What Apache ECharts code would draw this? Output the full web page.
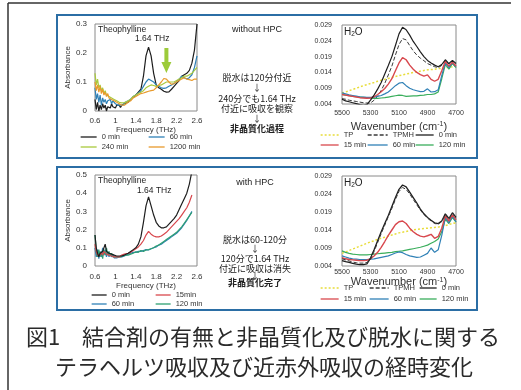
<!DOCTYPE html>
<html>
<head>
<meta charset="utf-8">
<script src="https://cdn.jsdelivr.net/npm/echarts@6/dist/echarts.min.js"></script>
<style>
  html, body { margin: 0; padding: 0; background: #fff; }
  #chart { width: 521px; height: 390px; }
</style>
</head>
<body>
<div id="chart"></div>
<script>
// ---- THz, without HPC ----
const freqTop = [0.6,0.625,0.65,0.675,0.7,0.725,0.75,0.775,0.8,0.825,0.85,0.875,0.9,0.925,0.95,0.975,1.0,1.025,1.05,1.075,1.1,1.125,1.15,1.175,1.2,
  1.25,1.3,1.35,1.4,1.45,1.5,1.55,1.6,1.65,1.7,1.75,1.8,1.85,1.9,1.95,2.0,2.05,2.1,2.15,2.2,2.25,2.3,2.35,2.4,2.45,2.5,2.55,2.6];
const top0min = [0.04,0.005,0.03,0.0,0.02,0.005,0.025,0.01,0.02,0.0,0.015,0.02,0.01,0.025,0.015,0.02,0.01,0.02,0.015,0.02,0.012,0.02,0.018,0.025,0.022,
  0.03,0.04,0.048,0.055,0.065,0.075,0.12,0.19,0.22,0.19,0.13,0.09,0.08,0.075,0.068,0.065,0.066,0.075,0.085,0.095,0.105,0.12,0.125,0.13,0.14,0.165,0.21,0.3];
const top60min = [0.08,0.04,0.06,0.03,0.055,0.02,0.045,0.03,0.04,0.025,0.035,0.03,0.04,0.025,0.035,0.03,0.025,0.03,0.02,0.025,0.02,0.025,0.02,0.028,0.025,
  0.035,0.04,0.05,0.055,0.062,0.07,0.085,0.1,0.11,0.105,0.1,0.09,0.085,0.08,0.078,0.08,0.085,0.09,0.095,0.1,0.11,0.12,0.115,0.11,0.115,0.125,0.15,0.19];
const top240min = [0.13,0.09,0.11,0.08,0.09,0.07,0.08,0.06,0.07,0.055,0.06,0.05,0.055,0.045,0.05,0.04,0.04,0.035,0.035,0.03,0.03,0.028,0.025,0.028,0.025,
  0.035,0.04,0.05,0.055,0.06,0.065,0.07,0.08,0.085,0.09,0.088,0.085,0.088,0.09,0.095,0.1,0.1,0.1,0.1,0.105,0.11,0.115,0.12,0.12,0.125,0.13,0.14,0.15];
const top1200min = [0.1,0.07,0.09,0.065,0.085,0.06,0.075,0.055,0.065,0.05,0.06,0.045,0.05,0.04,0.045,0.035,0.04,0.03,0.035,0.025,0.03,0.02,0.025,0.02,0.025,
  0.03,0.035,0.045,0.05,0.055,0.06,0.062,0.065,0.068,0.07,0.072,0.08,0.09,0.1,0.112,0.11,0.1,0.092,0.095,0.1,0.105,0.11,0.115,0.11,0.108,0.105,0.11,0.11];
const arrowAt = [2.0, 0.174];

// ---- THz, with HPC ----
const freqBot = [0.6,0.625,0.65,0.675,0.7,0.725,0.75,0.775,0.8,0.825,0.85,0.875,0.9,0.925,0.95,0.975,1.0,1.025,1.05,1.075,1.1,1.125,1.15,1.175,1.2,
  1.25,1.3,1.35,1.4,1.45,1.5,1.55,1.6,1.65,1.7,1.75,1.8,1.85,1.9,1.95,2.0,2.05,2.1,2.15,2.2,2.25,2.3,2.35,2.4,2.45,2.5];
const bot0min = [0.17,0.1,0.07,0.05,0.07,0.06,0.08,0.07,0.12,0.08,0.09,0.07,0.08,0.065,0.07,0.06,0.065,0.055,0.06,0.055,0.06,0.055,0.06,0.06,0.065,
  0.07,0.08,0.09,0.1,0.12,0.16,0.24,0.33,0.38,0.33,0.28,0.24,0.22,0.21,0.21,0.215,0.23,0.245,0.26,0.28,0.31,0.34,0.37,0.4,0.45,0.52];
const bot15min = [0.12,0.08,0.06,0.07,0.06,0.075,0.06,0.08,0.07,0.065,0.07,0.06,0.065,0.055,0.06,0.05,0.055,0.05,0.055,0.05,0.055,0.06,0.06,0.065,0.065,
  0.07,0.075,0.085,0.095,0.105,0.12,0.14,0.17,0.19,0.175,0.165,0.16,0.16,0.165,0.175,0.185,0.2,0.215,0.23,0.245,0.26,0.28,0.3,0.32,0.35,0.39];
const bot60min = [0.1,0.05,0.09,0.04,0.08,0.05,0.1,0.06,0.09,0.05,0.08,0.05,0.07,0.05,0.065,0.045,0.055,0.045,0.05,0.05,0.055,0.05,0.06,0.055,0.06,
  0.065,0.07,0.075,0.075,0.08,0.08,0.085,0.09,0.088,0.095,0.1,0.105,0.115,0.12,0.13,0.14,0.15,0.16,0.17,0.18,0.195,0.21,0.23,0.25,0.275,0.3];
const bot120min = [0.17,0.08,0.05,0.09,0.05,0.08,0.04,0.09,0.06,0.1,0.06,0.08,0.055,0.07,0.05,0.06,0.05,0.055,0.05,0.055,0.05,0.055,0.055,0.06,0.06,
  0.06,0.065,0.07,0.078,0.075,0.085,0.08,0.088,0.09,0.095,0.1,0.11,0.115,0.125,0.135,0.145,0.155,0.165,0.175,0.185,0.2,0.215,0.235,0.255,0.275,0.295];

// ---- NIR wavenumber grid ----
const waveNum = [5500,5475,5450,5425,5400,5375,5350,5325,5300,5275,5250,5225,5200,5175,5150,5125,5100,5075,5050,5025,5000,4975,4950,4925,4900,4875,4850,4825,4800,4775,4750,4725,4700];

// NIR, without HPC
const nirTopTP = [0.0075,0.0078,0.0082,0.0086,0.009,0.0094,0.0098,0.0101,0.0105,0.0108,0.0112,0.0115,0.0118,0.0121,0.0124,0.0127,0.013,0.0132,0.0135,0.0137,0.014,0.0142,0.0144,0.0146,0.0148,0.0149,0.015,0.0152,0.0153,0.0155,0.0157,0.0158,0.016];
const nirTopTPMH = [0.0057,0.0055,0.0052,0.005,0.0048,0.0046,0.0044,0.0043,0.0043,0.0052,0.0065,0.0083,0.0105,0.0132,0.016,0.0195,0.0228,0.0247,0.0243,0.0225,0.0208,0.0195,0.0185,0.0177,0.0168,0.0163,0.0158,0.0155,0.0162,0.0178,0.0166,0.0176,0.0166];
const nirTop0min = [0.0055,0.005,0.0047,0.0044,0.0041,0.0038,0.0036,0.0038,0.0052,0.0068,0.0087,0.0108,0.0135,0.0162,0.019,0.0225,0.0262,0.0283,0.0275,0.0258,0.0238,0.0222,0.0205,0.019,0.0178,0.017,0.0163,0.0158,0.0165,0.018,0.0168,0.0178,0.0168];
const nirTop15min = [0.007,0.0068,0.0066,0.0064,0.0062,0.006,0.0059,0.0058,0.0059,0.0063,0.007,0.0079,0.0089,0.0103,0.012,0.0145,0.017,0.0187,0.018,0.0163,0.015,0.014,0.0133,0.0128,0.0132,0.0118,0.0112,0.0118,0.0145,0.0175,0.016,0.0172,0.016];
const nirTop60min = [0.0075,0.0072,0.0069,0.0067,0.0065,0.0063,0.0062,0.0061,0.0061,0.0062,0.0064,0.0067,0.0072,0.0078,0.0088,0.0098,0.0106,0.0108,0.0098,0.009,0.0085,0.0082,0.0079,0.008,0.0088,0.0078,0.0079,0.0085,0.013,0.017,0.0155,0.017,0.0158];
const nirTop120min = [0.007,0.0068,0.0066,0.0064,0.0063,0.0062,0.0061,0.006,0.0059,0.0058,0.0058,0.0059,0.006,0.0062,0.0064,0.0066,0.0068,0.0067,0.0064,0.0065,0.0066,0.0066,0.0067,0.0068,0.007,0.007,0.0072,0.0078,0.012,0.0165,0.015,0.0168,0.0155];

// NIR, with HPC
const nirBotTP = [0.0075,0.0079,0.0083,0.0087,0.0091,0.0095,0.0099,0.0103,0.0107,0.011,0.0114,0.0117,0.012,0.0123,0.0126,0.0129,0.0132,0.0134,0.0136,0.0138,0.014,0.0142,0.0143,0.0144,0.0145,0.0146,0.0147,0.0148,0.015,0.0152,0.0155,0.0158,0.016];
const nirBotTPMH = [0.006,0.0057,0.0054,0.0051,0.0049,0.0048,0.0048,0.005,0.0058,0.008,0.0105,0.013,0.0153,0.0177,0.02,0.0225,0.0247,0.0258,0.0253,0.024,0.0225,0.021,0.0195,0.0183,0.0173,0.0165,0.0158,0.0156,0.0163,0.0183,0.017,0.0186,0.0173];
const nirBot0min = [0.0055,0.0052,0.005,0.0047,0.0045,0.0044,0.0044,0.0046,0.0062,0.0085,0.011,0.0135,0.0158,0.018,0.0205,0.023,0.0253,0.0265,0.026,0.0245,0.023,0.0215,0.0198,0.0185,0.0175,0.0167,0.016,0.0158,0.0165,0.0185,0.0172,0.0188,0.0175];
const nirBot15min = [0.0063,0.006,0.0058,0.0057,0.0056,0.0055,0.0055,0.0056,0.006,0.0068,0.0078,0.0092,0.0108,0.0125,0.014,0.0155,0.0163,0.0165,0.0158,0.0145,0.0135,0.0128,0.0123,0.0121,0.0124,0.0128,0.0117,0.0122,0.0145,0.018,0.0165,0.0182,0.0168];
const nirBot60min = [0.0068,0.0065,0.0062,0.006,0.0059,0.0058,0.0058,0.0058,0.0059,0.006,0.0062,0.0064,0.0066,0.0068,0.0072,0.0076,0.0079,0.0077,0.0072,0.0068,0.0066,0.0064,0.0065,0.007,0.0075,0.009,0.0078,0.0085,0.0125,0.0175,0.016,0.0178,0.0163];
const nirBot120min = [0.0082,0.0078,0.0075,0.0073,0.0072,0.0071,0.0071,0.0071,0.0072,0.0073,0.0074,0.0075,0.0076,0.0077,0.0078,0.008,0.0081,0.0082,0.0084,0.0086,0.0088,0.009,0.0092,0.0095,0.0098,0.0103,0.0108,0.0115,0.0135,0.017,0.0158,0.0175,0.0162];

const LAT = "'Liberation Sans', Arial, sans-serif";
const JP = "'Noto Sans CJK JP', sans-serif";
const C = {
  black: '#1e1e1e', tpmh: '#3a3a3a', red: '#d8474d', blue: '#2f80b6', green: '#3aae5c',
  yellow: '#e8dd3a', lime: '#a9c93c', orange: '#e89a2c', teal: '#2e9f72', arrow: '#9ccb3a'
};

const series = [];
function addLine(gi, xs, ys, name, color, type, width) {
  series.push({
    type: 'line', name: name, xAxisIndex: gi, yAxisIndex: gi,
    data: xs.map((x, i) => [x, ys[i]]),
    symbol: 'none', smooth: false,
    lineStyle: { color: color, width: width || 1.2, type: type || 'solid' },
    itemStyle: { color: color, opacity: 0 },
    emphasis: { disabled: true }
  });
  return series[series.length - 1];
}

// chart 0: THz without HPC
addLine(0, freqTop, top0min, 'a|0 min', C.black);
addLine(0, freqTop, top60min, 'a|60 min', C.blue);
addLine(0, freqTop, top240min, 'a|240 min', C.lime);
const s1200 = addLine(0, freqTop, top1200min, 'a|1200 min', C.orange);
s1200.markPoint = {
  silent: true,
  symbol: 'path://M3,0 L7,0 L7,14 L10,14 L5,25 L0,14 L3,14 Z',
  symbolSize: [10, 25],
  itemStyle: { color: C.arrow, opacity: 1 },
  label: { show: false },
  data: [{ coord: arrowAt }]
};

// chart 1: NIR without HPC
addLine(1, waveNum, nirTopTP, 'b|TP', C.yellow, [2, 2], 1.5);
addLine(1, waveNum, nirTopTPMH, 'b|TPMH', C.tpmh, [4, 2], 1);
addLine(1, waveNum, nirTop120min, 'b|120 min', C.green);
addLine(1, waveNum, nirTop60min, 'b|60 min', C.blue);
addLine(1, waveNum, nirTop15min, 'b|15 min', C.red, 'solid', 1.4);
addLine(1, waveNum, nirTop0min, 'b|0 min', C.black);

// chart 2: THz with HPC
addLine(2, freqBot, bot60min, 'c|60 min', C.blue);
addLine(2, freqBot, bot120min, 'c|120 min', C.teal);
addLine(2, freqBot, bot15min, 'c|15min', C.red);
addLine(2, freqBot, bot0min, 'c|0 min', C.black);

// chart 3: NIR with HPC
addLine(3, waveNum, nirBotTP, 'd|TP', C.yellow, [2, 2], 1.5);
addLine(3, waveNum, nirBot120min, 'd|120 min', C.green);
addLine(3, waveNum, nirBot60min, 'd|60 min', C.blue);
addLine(3, waveNum, nirBot15min, 'd|15 min', C.red, 'solid', 1.4);
addLine(3, waveNum, nirBot0min, 'd|0 min', C.black, 'solid', 1.3);
addLine(3, waveNum, nirBotTPMH, 'd|TPMH', C.tpmh, [4, 2], 1);

const grids = [
  { left: 95, top: 24, width: 102, height: 87 },
  { left: 342, top: 25, width: 114, height: 79 },
  { left: 95, top: 175, width: 102, height: 91 },
  { left: 342, top: 176, width: 114, height: 90 }
].map(g => Object.assign({ show: true, borderColor: '#8a8a8a', borderWidth: 1, backgroundColor: 'transparent' }, g));

function thzX(gi, nameGap, margin) {
  return {
    gridIndex: gi, type: 'value', min: 0.6, max: 2.6, interval: 0.4,
    name: 'Frequency (THz)', nameLocation: 'middle', nameGap: nameGap,
    nameTextStyle: { fontSize: 8, color: '#333', fontFamily: LAT },
    axisLine: { show: false }, axisTick: { show: false }, splitLine: { show: false },
    axisLabel: { fontSize: 8, color: '#333', margin: margin, fontFamily: LAT }
  };
}
function thzY(gi, max, nameGap) {
  return {
    gridIndex: gi, type: 'value', min: 0, max: max, interval: 0.1,
    name: 'Absorbance', nameLocation: 'middle', nameGap: nameGap,
    nameTextStyle: { fontSize: 8, color: '#333', fontFamily: LAT },
    axisLine: { show: false }, axisTick: { show: false }, splitLine: { show: false },
    axisLabel: { fontSize: 8, color: '#333', margin: 8, fontFamily: LAT }
  };
}
function nirX(gi, nameGap, margin) {
  return {
    gridIndex: gi, type: 'value', min: 4700, max: 5500, interval: 200, inverse: true,
    name: 'Wavenumber (cm{sup|-1})', nameLocation: 'middle', nameGap: nameGap,
    nameTextStyle: { fontSize: 11, color: '#333', fontFamily: LAT,
      rich: { sup: { fontSize: 7, verticalAlign: 'top', color: '#333', fontFamily: LAT } } },
    axisLine: { show: false }, axisTick: { show: false }, splitLine: { show: false },
    axisLabel: { fontSize: 7, color: '#333', margin: margin, fontFamily: LAT, formatter: v => String(v) }
  };
}
function nirY(gi) {
  return {
    gridIndex: gi, type: 'value', min: 0.004, max: 0.029, interval: 0.005,
    axisLine: { show: false }, axisTick: { show: false }, splitLine: { show: false },
    axisLabel: { fontSize: 7, color: '#333', margin: 10, fontFamily: LAT }
  };
}

function legendCol(left, top, names, w, gap) {
  return {
    left: left, top: top, orient: 'vertical', padding: 0,
    itemWidth: w, itemHeight: 8, itemGap: gap, selectedMode: false,
    itemStyle: { opacity: 0 },
    lineStyle: { width: 1.3 },
    data: names, formatter: n => n.split('|')[1],
    textStyle: { fontSize: 7.5, color: '#333', fontFamily: LAT, lineHeight: 8 }
  };
}

function txt(x, y, text, size, opts) {
  return {
    type: 'text', x: x, y: y, silent: true, z: 10,
    style: Object.assign({ text: text, fontSize: size, fill: '#222', fontFamily: LAT,
      align: 'left', verticalAlign: 'middle' }, opts || {})
  };
}
function mid(x, y, text, opts) {
  return txt(x, y, text, 9, Object.assign({ align: 'center', fontFamily: JP }, opts || {}));
}
const h2oRich = {
  a: { fontSize: 10, fontFamily: LAT, fill: '#222' },
  s: { fontSize: 6.5, fontFamily: LAT, fill: '#222', verticalAlign: 'bottom', padding: [4, 0, 0, 0] }
};

const graphic = [
  { type: 'line', silent: true, shape: { x1: 8, y1: 3, x2: 511, y2: 3 }, style: { stroke: '#333', lineWidth: 1.5 } },
  { type: 'line', silent: true, shape: { x1: 8, y1: 3, x2: 8, y2: 390 }, style: { stroke: '#333', lineWidth: 1.5 } },
  { type: 'rect', silent: true, shape: { x: 57, y: 15, width: 420, height: 143 }, style: { fill: 'transparent', stroke: '#2b6ea5', lineWidth: 2 } },
  { type: 'rect', silent: true, shape: { x: 57, y: 167, width: 420, height: 143 }, style: { fill: 'transparent', stroke: '#2b6ea5', lineWidth: 2 } },

  txt(98, 30, 'Theophylline', 8.5),
  txt(135, 39, '1.64 THz', 8.5),
  txt(98, 181, 'Theophylline', 8.5),
  txt(137, 191, '1.64 THz', 8.5),
  txt(344, 32, '{a|H}{s|2}{a|O}', 10, { rich: h2oRich }),
  txt(344, 183, '{a|H}{s|2}{a|O}', 10, { rich: h2oRich }),

  mid(257, 30, 'without HPC', { fontFamily: LAT }),
  mid(257, 78, '脱水は120分付近'),
  mid(257, 88, '↓'),
  mid(257, 99, '240分でも1.64 THz'),
  mid(257, 109, '付近に吸収を観察'),
  mid(257, 119, '↓'),
  mid(257, 129, '非晶質化過程', { fontWeight: 'bold' }),

  mid(255, 183, 'with HPC', { fontFamily: LAT }),
  mid(255, 240, '脱水は60-120分'),
  mid(255, 249, '↓'),
  mid(255, 259, '120分で1.64 THz'),
  mid(255, 269, '付近に吸収は消失'),
  mid(255, 276, '↓'),
  mid(255, 283, '非晶質化完了', { fontWeight: 'bold' }),

  txt(263, 337, '図1　結合剤の有無と非晶質化及び脱水に関する', 22, { align: 'center', fontFamily: JP, fill: '#2a2a2a' }),
  txt(264, 367, 'テラヘルツ吸収及び近赤外吸収の経時変化', 22, { align: 'center', fontFamily: JP, fill: '#2a2a2a' })
];

const option = {
  animation: false,
  backgroundColor: '#fff',
  grid: grids,
  xAxis: [thzX(0, 14, 6), nirX(1, 17, 6), thzX(2, 13, 7), nirX(3, 8, 3)],
  yAxis: [thzY(0, 0.3, 12), nirY(1), thzY(2, 0.5, 15), nirY(3)],
  legend: [
    legendCol(80, 133, ['a|0 min', 'a|240 min'], 16, 2),
    legendCol(148, 133, ['a|60 min', 'a|1200 min'], 16, 2),
    legendCol(320, 131, ['b|TP', 'b|15 min'], 18, 2),
    legendCol(367, 131, ['b|TPMH', 'b|60 min'], 20, 2),
    legendCol(415, 131, ['b|0 min', 'b|120 min'], 18, 2),
    legendCol(91, 291, ['c|0 min', 'c|60 min'], 15, 1),
    legendCol(155, 291, ['c|15min', 'c|120 min'], 15, 1),
    legendCol(320, 284, ['d|TP', 'd|15 min'], 18, 3),
    legendCol(369, 284, ['d|TPMH', 'd|60 min'], 19, 3),
    legendCol(419, 284, ['d|0 min', 'd|120 min'], 17, 3)
  ],
  graphic: graphic,
  series: series
};

const chart = echarts.init(document.getElementById('chart'), null, { renderer: 'canvas' });
chart.setOption(option);
</script>
</body>
</html>
